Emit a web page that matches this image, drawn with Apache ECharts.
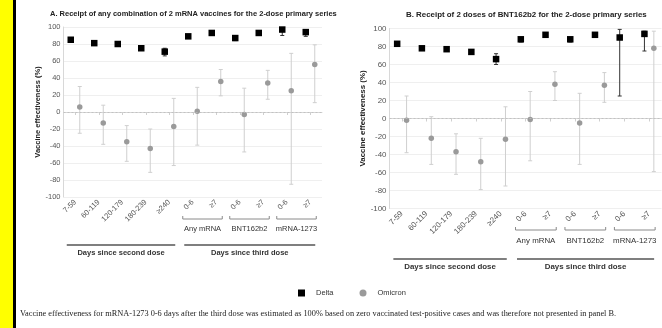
<!DOCTYPE html>
<html>
<head>
<meta charset="utf-8">
<script src="https://cdn.jsdelivr.net/npm/echarts@6/dist/echarts.min.js"></script>
<style>
  html, body { margin: 0; padding: 0; background: #fff; }
  #chart { width: 662px; height: 328px; }
</style>
</head>
<body>
<div id="chart"></div>
<script>
// Time-since-dose categories shared by both panels
const categories = ['7-59', '60-119', '120-179', '180-239', '\u2265240', '0-6', '\u22657', '0-6', '\u22657', '0-6', '\u22657'];
const groupLabels = ['Any mRNA', 'BNT162b2', 'mRNA-1273'];
const periodLabels = ['Days since second dose', 'Days since third dose'];
const yTicks = { min: -100, max: 100, step: 20 };

// Panel A: any combination of 2 mRNA vaccines
const deltaA      = [85, 81, 80, 75, 71, 89, 93, 87, 93, 97, 94];
const deltaALow   = [83, 79, 78, 73, 66, 87, 92, 84, 92, 90, 89];
const deltaAHigh  = [87, 83, 82, 77, 75, 91, 94, 90, 94, 99, 97];
const omicronA     = [6, -13, -35, -43, -17, 1, 36, -3, 34, 25, 56];
const omicronALow  = [-25, -38, -58, -71, -63, -39, 19, -47, 15, -85, 11];
const omicronAHigh = [30, 8, -16, -20, 16, 29, 50, 28, 49, 69, 79];

// Panel B: 2 doses of BNT162b2
const deltaB      = [83, 78, 77, 74, 66, 88, 93, 88, 93, 90, 94];
const deltaBLow   = [81, 76, 75, 72, 60, 85, 92, 85, 92, 25, 75];
const deltaBHigh  = [85, 80, 79, 76, 72, 90, 94, 90, 94, 99, 97];
const omicronB     = [-2, -22, -37, -48, -23, -1, 38, -5, 37, null, 78];
const omicronBLow  = [-38, -51, -62, -79, -75, -47, 20, -51, 18, null, -59];
const omicronBHigh = [25, 2, -17, -22, 13, 30, 52, 28, 51, null, 97];

const FONT = 'Liberation Sans';
const DELTA_COLOR = '#000';
const DELTA_CI = '#333';
const OMICRON_COLOR = '#9a9a9a';
const OMICRON_CI = '#cfcfcf';

const panels = [
  { title: 'A. Receipt of any combination of 2 mRNA vaccines for the 2-dose primary series',
    titleLeft: 50, titleTop: 10, fs: 7.5,
    grid: { left: 63.5, top: 27, width: 258.5, height: 170 },
    offset: 4.5, nameGap: 16,
    delta: [deltaA, deltaALow, deltaAHigh], omicron: [omicronA, omicronALow, omicronAHigh],
    bracketY: 22, groupY: 32, lineY: 48, periodY: 56 },
  { title: 'B. Receipt of 2 doses of BNT162b2 for the 2-dose primary series',
    titleLeft: 406, titleTop: 10.5, fs: 7.9,
    grid: { left: 389.5, top: 28.5, width: 272, height: 180 },
    offset: 4.7, nameGap: 18,
    delta: [deltaB, deltaBLow, deltaBHigh], omicron: [omicronB, omicronBLow, omicronBHigh],
    bracketY: 21.5, groupY: 32.5, lineY: 50.5, periodY: 58.5 }
];

// Vertical error bar with small caps, shifted sideways from the category centre
function ciRenderer(offset, color, width) {
  return function (params, api) {
    const lo = api.value(1), hi = api.value(2);
    if (isNaN(lo) || isNaN(hi)) return;
    const top = api.coord([api.value(0), hi]);
    const bot = api.coord([api.value(0), lo]);
    const x = top[0] + offset;
    const cap = 2;
    const style = { stroke: color, lineWidth: width };
    return {
      type: 'group',
      children: [
        { type: 'line', shape: { x1: x, y1: top[1], x2: x, y2: bot[1] }, style },
        { type: 'line', shape: { x1: x - cap, y1: top[1], x2: x + cap, y2: top[1] }, style },
        { type: 'line', shape: { x1: x - cap, y1: bot[1], x2: x + cap, y2: bot[1] }, style }
      ]
    };
  };
}

function ciData(low, high) {
  const out = [];
  categories.forEach((_, i) => {
    if (low[i] != null && high[i] != null) out.push([i, low[i], high[i]]);
  });
  return out;
}

function pointData(values) {
  const out = [];
  values.forEach((v, i) => { if (v != null) out.push([i, v]); });
  return out;
}

const option = {
  animation: false,
  textStyle: { fontFamily: FONT },
  title: panels.map(p => ({
    text: p.title, left: p.titleLeft, top: p.titleTop, padding: 0,
    textStyle: { fontFamily: FONT, fontSize: p.fs, fontWeight: 'bold', color: '#222' }
  })),
  legend: {
    left: 298, top: 289, itemWidth: 7, itemHeight: 7, itemGap: 26, padding: 0,
    textStyle: { fontFamily: FONT, fontSize: 7.5, color: '#333', padding: [0, 0, 0, 6] },
    data: [
      { name: 'Delta', icon: 'rect', itemStyle: { color: DELTA_COLOR } },
      { name: 'Omicron', icon: 'circle', itemStyle: { color: OMICRON_COLOR } }
    ]
  },
  grid: panels.map(p => Object.assign({ outerBoundsMode: 'none', containLabel: false }, p.grid)),
  xAxis: panels.map((p, k) => ({
    type: 'category', gridIndex: k, data: categories, boundaryGap: true,
    axisLine: { lineStyle: { color: '#d8d8d8' } },
    axisTick: { show: true, alignWithLabel: true, length: 3, lineStyle: { color: '#cfcfcf' } },
    axisLabel: { rotate: 45, fontSize: p.fs, color: '#555', margin: 4, interval: 0 },
    splitLine: { show: false }
  })),
  yAxis: panels.map((p, k) => ({
    type: 'value', gridIndex: k, min: yTicks.min, max: yTicks.max, interval: yTicks.step,
    name: 'Vaccine effectiveness (%)', nameLocation: 'middle', nameRotate: 90, nameGap: p.nameGap,
    nameTextStyle: { fontFamily: FONT, fontSize: p.fs, fontWeight: 'bold', color: '#222' },
    axisLine: { show: true, lineStyle: { color: '#d8d8d8' } },
    axisTick: { show: false },
    axisLabel: { fontSize: p.fs, color: '#555', margin: 3 },
    splitLine: { lineStyle: { color: '#efefef', width: 1 } }
  })),
  series: []
};

panels.forEach((p, k) => {
  option.series.push(
    { type: 'custom', name: 'Omicron CI', xAxisIndex: k, yAxisIndex: k, z: 2,
      renderItem: ciRenderer(p.offset, OMICRON_CI, 1), encode: { x: 0, y: [1, 2] },
      data: ciData(p.omicron[1], p.omicron[2]) },
    { type: 'custom', name: 'Delta CI', xAxisIndex: k, yAxisIndex: k, z: 2,
      renderItem: ciRenderer(-p.offset, DELTA_CI, 1), encode: { x: 0, y: [1, 2] },
      data: ciData(p.delta[1], p.delta[2]) },
    { type: 'scatter', name: 'Omicron', xAxisIndex: k, yAxisIndex: k, z: 3,
      symbol: 'circle', symbolSize: 5.5, symbolOffset: [p.offset, 0],
      itemStyle: { color: OMICRON_COLOR, opacity: 1 },
      data: pointData(p.omicron[0]),
      markLine: {
        silent: true, symbol: 'none', label: { show: false },
        lineStyle: { color: '#bdbdbd', type: [2, 2], width: 0.8 },
        data: [{ yAxis: 0 }]
      } },
    { type: 'scatter', name: 'Delta', xAxisIndex: k, yAxisIndex: k, z: 4,
      symbol: 'rect', symbolSize: 6.5, symbolOffset: [-p.offset, 0],
      itemStyle: { color: DELTA_COLOR, opacity: 1 },
      data: pointData(p.delta[0]) }
  );
});

const chart = echarts.init(document.getElementById('chart'), null, { renderer: 'canvas' });
chart.setOption(option);

// Group brackets, period rules and their captions under each panel's axis
const graphic = [
  { type: 'rect', shape: { x: 0, y: 0, width: 13, height: 328 }, style: { fill: '#ffff00' } },
  { type: 'rect', shape: { x: 13, y: 0, width: 3, height: 328 }, style: { fill: '#000' } },
  { type: 'text', left: 20, top: 310,
    style: { text: 'Vaccine effectiveness for mRNA-1273 0-6 days after the third dose was estimated as 100% based on zero vaccinated test-positive cases and was therefore not presented in panel B.',
             fontFamily: 'Liberation Serif', fontSize: 8.3, fill: '#222' } }
];

panels.forEach((p, k) => {
  const px = i => chart.convertToPixel({ xAxisIndex: k }, i);
  const base = p.grid.top + p.grid.height;
  groupLabels.forEach((label, g) => {
    const x1 = px(5 + 2 * g) - 10, x2 = px(6 + 2 * g) + 6;
    const yb = base + p.bracketY;
    graphic.push({ type: 'polyline', silent: true,
      shape: { points: [[x1, yb - 3], [x1, yb], [x2, yb], [x2, yb - 3]] },
      style: { stroke: '#8a8a8a', lineWidth: 1, fill: null } });
    graphic.push({ type: 'text', silent: true, x: (x1 + x2) / 2, y: base + p.groupY,
      style: { text: label, fontFamily: FONT, fontSize: p.fs, fill: '#333', align: 'center', verticalAlign: 'middle' } });
  });
  const spans = [[px(0) - 8.5, px(4) + 6], [px(5) - 8.5, px(10) + 5]];
  spans.forEach((s, j) => {
    graphic.push({ type: 'line', silent: true,
      shape: { x1: s[0], y1: base + p.lineY, x2: s[1], y2: base + p.lineY },
      style: { stroke: '#555', lineWidth: 1.5 } });
    graphic.push({ type: 'text', silent: true, x: (s[0] + s[1]) / 2, y: base + p.periodY,
      style: { text: periodLabels[j], fontFamily: FONT, fontSize: p.fs, fontWeight: 'bold', fill: '#333', align: 'center', verticalAlign: 'middle' } });
  });
});

chart.setOption({ graphic: graphic });
</script>
</body>
</html>
